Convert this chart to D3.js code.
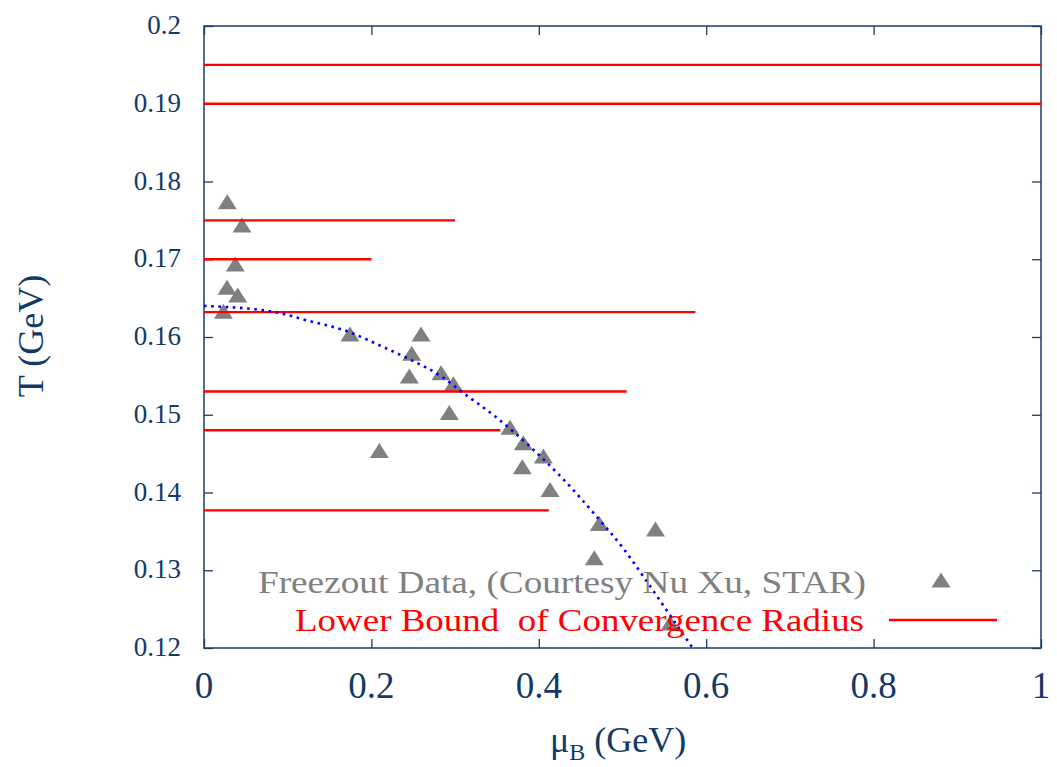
<!DOCTYPE html>
<html>
<head>
<meta charset="utf-8">
<script src="https://cdn.jsdelivr.net/npm/d3@7"></script>
<style>
  html, body { margin: 0; padding: 0; background: #fff; }
  svg { display: block; }
  svg text { font-family: "Liberation Serif", "Times New Roman", Times, serif; }
</style>
</head>
<body>
<svg id="chart" width="1057" height="767"></svg>
<script>
// Freeze-out points (mu_B, T) in GeV
const freezeMu = [0.0278, 0.0454, 0.0374, 0.0275, 0.0403, 0.0231, 0.1744, 0.2593,
                  0.2481, 0.2453, 0.2832, 0.2979, 0.2931, 0.2095, 0.3656, 0.3815,
                  0.4054, 0.3803, 0.4134, 0.4723, 0.5394, 0.4663, 0.5568];
const freezeT  = [0.1774, 0.1744, 0.1694, 0.1664, 0.1654, 0.1633, 0.1604, 0.1604,
                  0.1579, 0.1550, 0.1554, 0.1540, 0.1503, 0.1454, 0.1484, 0.1464,
                  0.1447, 0.1433, 0.1404, 0.1360, 0.1353, 0.1316, 0.1232];

// Lower bound of the convergence radius: temperature and extent in mu_B
const boundT  = [0.195, 0.190, 0.175, 0.170, 0.1632, 0.153, 0.148, 0.1377];
const boundMu = [1.0,   1.0,   0.300, 0.200, 0.587,  0.505, 0.354, 0.412];

// Freeze-out curve (dotted)
const curveMu = [0, 0.0848, 0.1207, 0.172, 0.2123, 0.2481, 0.284, 0.3098, 0.3477,
                 0.3895, 0.4293, 0.4691, 0.501, 0.5249, 0.5607, 0.5806, 0.590];
const curveT  = [0.1640, 0.1632, 0.1622, 0.1607, 0.1588, 0.1570, 0.1549, 0.1528, 0.1498,
                 0.1459, 0.1417, 0.1369, 0.1328, 0.1292, 0.1236, 0.1205, 0.1190];

const xTicks = [0, 0.2, 0.4, 0.6, 0.8, 1];
const xTickLabels = ["0", "0.2", "0.4", "0.6", "0.8", "1"];
const yTicks = [0.12, 0.13, 0.14, 0.15, 0.16, 0.17, 0.18, 0.19, 0.2];
const yTickLabels = ["0.12", "0.13", "0.14", "0.15", "0.16", "0.17", "0.18", "0.19", "0.2"];

const legendLabels = ["Freezout Data, (Courtesy Nu Xu, STAR)", "Lower Bound  of Convergence Radius"];

const serif = "'Liberation Serif', 'Times New Roman', Times, serif";
const axisColor = "#1b3d66";
const textColor = "#123a66";

const svg = d3.select("#chart").attr("font-family", serif);
const plot = { left: 204, right: 1041, top: 26, bottom: 648 };

const x = d3.scaleLinear().domain([0, 1]).range([plot.left, plot.right]);
const y = d3.scaleLinear().domain([0.12, 0.2]).range([plot.bottom, plot.top]);

svg.append("defs").append("clipPath").attr("id", "clip")
  .append("rect")
  .attr("x", plot.left).attr("y", plot.top)
  .attr("width", plot.right - plot.left).attr("height", plot.bottom - plot.top);

// Axes with inward ticks on all four sides
const tickLen = 9;
const axisStyle = g => {
  g.select(".domain").remove();
  g.selectAll(".tick line").attr("stroke", axisColor).attr("stroke-width", 1.3);
  g.selectAll(".tick text").remove();
};

svg.append("g").attr("transform", `translate(0,${plot.bottom})`)
  .call(d3.axisBottom(x).tickValues(xTicks).tickSizeInner(-tickLen).tickSizeOuter(0))
  .call(axisStyle);
svg.append("g").attr("transform", `translate(0,${plot.top})`)
  .call(d3.axisTop(x).tickValues(xTicks).tickSizeInner(-tickLen).tickSizeOuter(0))
  .call(axisStyle);
svg.append("g").attr("transform", `translate(${plot.left},0)`)
  .call(d3.axisLeft(y).tickValues(yTicks).tickSizeInner(-tickLen).tickSizeOuter(0))
  .call(axisStyle);
svg.append("g").attr("transform", `translate(${plot.right},0)`)
  .call(d3.axisRight(y).tickValues(yTicks).tickSizeInner(-tickLen).tickSizeOuter(0))
  .call(axisStyle);

// Tick labels
svg.append("g").selectAll("text").data(xTicks).join("text")
  .attr("x", d => x(d)).attr("y", 698)
  .attr("font-family", serif)
  .attr("text-anchor", "middle").attr("font-size", 37).attr("fill", textColor)
  .text((d, i) => xTickLabels[i]);

svg.append("g").selectAll("text").data(yTicks).join("text")
  .attr("x", 181).attr("y", d => y(d) + 8)
  .attr("font-family", serif)
  .attr("text-anchor", "end").attr("font-size", 27).attr("fill", textColor)
  .text((d, i) => yTickLabels[i]);

// Frame
svg.append("rect")
  .attr("x", plot.left).attr("y", plot.top)
  .attr("width", plot.right - plot.left).attr("height", plot.bottom - plot.top)
  .attr("fill", "none").attr("stroke", axisColor).attr("stroke-width", 1.5);

// Axis titles
svg.append("text")
  .attr("transform", "translate(43,336) rotate(-90)")
  .attr("font-family", serif)
  .attr("text-anchor", "middle").attr("font-size", 36).attr("fill", textColor)
  .text("T (GeV)");

const xt = svg.append("text").attr("x", 550).attr("y", 752)
  .attr("font-family", serif)
  .attr("font-size", 36).attr("fill", textColor);
xt.append("tspan").text("\u03bc");
xt.append("tspan").attr("font-size", 24).attr("dy", 8).text("B");
xt.append("tspan").attr("dy", -8).text(" (GeV)");

const layer = svg.append("g").attr("clip-path", "url(#clip)");

// Triangle marker centred on its bounding box
const triHalfW = 9.5, triH = 15;
const triPath = (cx, cy) =>
  `M${cx - triHalfW},${cy + triH / 2}L${cx + triHalfW},${cy + triH / 2}L${cx},${cy - triH / 2}Z`;

layer.append("g").selectAll("path").data(freezeMu).join("path")
  .attr("d", (d, i) => triPath(x(d), y(freezeT[i])))
  .attr("fill", "#808080");

// Legend row 1
const legend = svg.append("g");
legend.append("text")
  .attr("x", 258).attr("y", 593)
  .attr("font-family", serif)
  .attr("font-size", 31).attr("fill", "#808080")
  .attr("textLength", 608).attr("lengthAdjust", "spacingAndGlyphs")
  .text(legendLabels[0]);
legend.append("path").attr("d", triPath(941, 580)).attr("fill", "#808080");

// Lower-bound lines
layer.append("g").selectAll("line").data(boundT).join("line")
  .attr("x1", x(0)).attr("x2", (d, i) => x(boundMu[i]))
  .attr("y1", d => y(d)).attr("y2", d => y(d))
  .attr("stroke", "#ff0000").attr("stroke-width", 2.4);

// Legend row 2
legend.append("text")
  .attr("x", 295).attr("y", 631)
  .attr("font-family", serif)
  .attr("font-size", 32).attr("fill", "#ff0000")
  .attr("xml:space", "preserve").style("white-space", "pre")
  .attr("textLength", 569).attr("lengthAdjust", "spacingAndGlyphs")
  .text(legendLabels[1]);
legend.append("line")
  .attr("x1", 889).attr("x2", 997).attr("y1", 620).attr("y2", 620)
  .attr("stroke", "#ff0000").attr("stroke-width", 2.4);

// Dotted freeze-out curve
const curvePts = curveMu.map((m, i) => [m, curveT[i]]);
layer.append("path")
  .datum(curvePts)
  .attr("d", d3.line().x(d => x(d[0])).y(d => y(d[1])).curve(d3.curveMonotoneX))
  .attr("fill", "none").attr("stroke", "#0000ff")
  .attr("stroke-width", 2.6).attr("stroke-dasharray", "2.6,4.6");
</script>
</body>
</html>
